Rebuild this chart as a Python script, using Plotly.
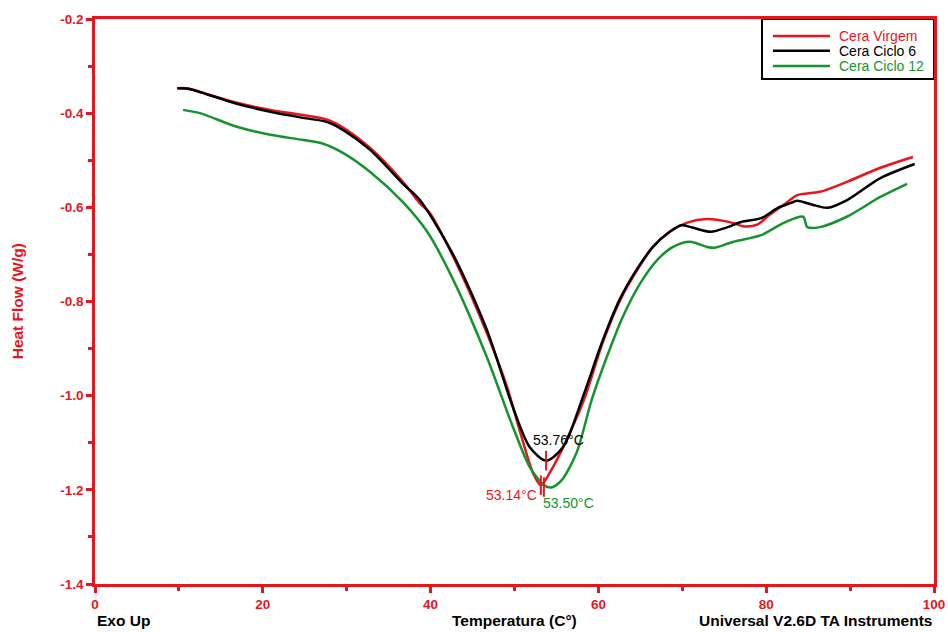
import plotly.graph_objects as go

# ---- data ----
T_virgem = [9.8, 11.0, 12.9, 16.9, 20.9, 24.8, 27.7, 29.6, 32.8, 36.7, 38.7, 39.9, 42.7, 46.7,
            49.1, 50.7, 52.2, 53.14, 54.6, 56.6, 58.4, 60.5, 62.6, 64.6, 66.5, 68.5, 70.5,
            72.9, 76.0, 77.2, 78.9, 80.4, 82.5, 83.7, 86.4, 89.6, 93.6, 97.5]
HF_virgem = [-0.347, -0.347, -0.357, -0.378, -0.393, -0.404, -0.414, -0.431, -0.474, -0.546,
             -0.591, -0.612, -0.705, -0.867, -0.981, -1.079, -1.164, -1.190, -1.151, -1.079,
             -1.003, -0.888, -0.797, -0.734, -0.684, -0.652, -0.633, -0.625, -0.633, -0.640,
             -0.637, -0.616, -0.589, -0.574, -0.567, -0.546, -0.516, -0.493]

T_ciclo6 = [9.8, 11.3, 16.9, 20.9, 24.8, 27.7, 29.6, 32.8, 36.7, 38.7, 42.7, 46.7, 49.8, 51.8,
            53.76, 55.8, 58.3, 60.4, 62.5, 64.5, 66.5, 68.5, 69.9, 71.2, 73.4, 75.4, 77.0,
            79.4, 81.4, 82.9, 83.7, 85.6, 87.3, 89.7, 93.6, 97.7]
HF_ciclo6 = [-0.347, -0.349, -0.380, -0.397, -0.410, -0.419, -0.436, -0.478, -0.550, -0.584,
             -0.701, -0.860, -1.024, -1.109, -1.138, -1.109, -0.995, -0.888, -0.797, -0.734,
             -0.684, -0.652, -0.638, -0.643, -0.652, -0.642, -0.631, -0.623, -0.601, -0.591,
             -0.586, -0.595, -0.601, -0.584, -0.538, -0.508]

T_ciclo12 = [10.5, 12.5, 16.9, 20.9, 24.8, 27.2, 29.6, 32.8, 36.7, 39.6, 42.7, 46.7, 49.8,
             51.8, 53.5, 54.4, 55.6, 57.4, 59.2, 61.0, 62.9, 65.0, 67.0, 68.9, 70.9, 72.9,
             73.8, 76.1, 79.4, 82.1, 84.4, 84.9, 86.4, 89.6, 93.6, 96.8]
HF_ciclo12 = [-0.393, -0.400, -0.429, -0.446, -0.457, -0.465, -0.485, -0.525, -0.589, -0.652,
              -0.754, -0.918, -1.066, -1.151, -1.190, -1.195, -1.180, -1.121, -1.009, -0.918,
              -0.833, -0.761, -0.712, -0.684, -0.673, -0.684, -0.686, -0.673, -0.659, -0.633,
              -0.620, -0.642, -0.642, -0.620, -0.578, -0.550]

peak_T = [53.76, 53.14, 53.50]
peak_HF = [-1.138, -1.190, -1.194]
peak_labels = ["53.76°C", "53.14°C", "53.50°C"]

series_names = ["Cera Virgem", "Cera Ciclo 6", "Cera Ciclo 12"]

x_ticks = [0, 20, 40, 60, 80, 100]
y_ticks = [-1.4, -1.2, -1.0, -0.8, -0.6, -0.4, -0.2]
y_ticktext = ["<b>-1.4</b>", "<b>-1.2</b>", "<b>-1.0</b>", "<b>-0.8</b>", "<b>-0.6</b>",
              "<b>-0.4</b>", "<b>-0.2</b>"]
x_ticktext = ["<b>%d</b>" % v for v in x_ticks]

RED = "#E8161C"
BLACK = "#000000"
GREEN = "#15932F"
colors = [RED, BLACK, GREEN]
FONT = "Liberation Sans, Arial, sans-serif"

fig = go.Figure()
for name, xs, ys, c in zip(series_names,
                           [T_virgem, T_ciclo6, T_ciclo12],
                           [HF_virgem, HF_ciclo6, HF_ciclo12], colors):
    fig.add_trace(go.Scatter(x=xs, y=ys, mode="lines", name=name,
                             line=dict(color=c, width=2.5, shape="spline", smoothing=0.8),
                             showlegend=False))

# peak markers
fig.add_trace(go.Scatter(x=peak_T, y=peak_HF, mode="markers", showlegend=False,
                         marker=dict(symbol="line-ns", size=14,
                                     line=dict(color=RED, width=2))))

# peak labels
label_pos = [(55.2, -1.094, BLACK), (49.6, -1.211, RED), (56.4, -1.228, GREEN)]
for txt, (lx, ly, c) in zip(peak_labels, label_pos):
    fig.add_annotation(x=lx, y=ly, text=txt, showarrow=False,
                       font=dict(family=FONT, size=14, color=c))

# legend box (manual)
fig.add_shape(type="rect", xref="paper", yref="paper", x0=0.795, x1=1.0, y0=0.894, y1=1.0,
              line=dict(color=BLACK, width=2), fillcolor="white", layer="below")
leg_y = [0.970, 0.944, 0.917]
for name, c, yy in zip(series_names, colors, leg_y):
    fig.add_shape(type="line", xref="paper", yref="paper", x0=0.808, x1=0.876, y0=yy, y1=yy,
                  line=dict(color=c, width=2.5))
    fig.add_annotation(xref="paper", yref="paper", x=0.884, y=yy, text=name,
                       showarrow=False, xanchor="left", yanchor="middle",
                       font=dict(family=FONT, size=14, color=c))

# y-axis title (placed as annotation to match position)
fig.add_annotation(xref="paper", yref="paper", x=-0.092, y=0.5, text="<b>Heat Flow (W/g)</b>",
                   textangle=-90, showarrow=False, xanchor="center", yanchor="middle",
                   font=dict(family=FONT, size=15.5, color=RED))

# bottom texts
bottom_y = -0.064
fig.add_annotation(xref="paper", yref="paper", x=0.0, y=bottom_y, text="<b>Exo Up</b>",
                   showarrow=False, xanchor="left", yanchor="middle",
                   font=dict(family=FONT, size=15.5, color=BLACK))
fig.add_annotation(xref="paper", yref="paper", x=0.5, y=bottom_y, text="<b>Temperatura (C°)</b>",
                   showarrow=False, xanchor="center", yanchor="middle",
                   font=dict(family=FONT, size=15.5, color=BLACK))
fig.add_annotation(xref="paper", yref="paper", x=1.0, y=bottom_y,
                   text="<b>Universal V2.6D TA Instruments</b>",
                   showarrow=False, xanchor="right", yanchor="middle",
                   font=dict(family=FONT, size=15.5, color=BLACK))

axis_common = dict(showline=True, linecolor=RED, linewidth=2.5, mirror=True,
                   ticks="outside", tickcolor=RED, tickwidth=2.5, ticklen=6,
                   showgrid=False, zeroline=False, automargin=False,
                   tickfont=dict(family=FONT, size=13.5, color=RED))

fig.update_xaxes(range=[0, 100], tickvals=x_ticks, ticktext=x_ticktext,
                 minor=dict(ticks="outside", dtick=10, tick0=0, ticklen=4, tickwidth=2.5,
                            tickcolor=RED),
                 **axis_common)
fig.update_yaxes(range=[-1.4, -0.2], tickvals=y_ticks, ticktext=y_ticktext,
                 minor=dict(ticks="outside", dtick=0.1, tick0=-1.4, ticklen=4, tickwidth=2.5,
                            tickcolor=RED),
                 **axis_common)

fig.update_layout(width=948, height=632, margin=dict(l=95, r=14, t=19, b=48),
                  plot_bgcolor="white", paper_bgcolor="white", showlegend=False)

fig.write_html("out.html", config={"displayModeBar": False},
               post_script="document.body.style.margin='0';document.body.style.padding='0';")
